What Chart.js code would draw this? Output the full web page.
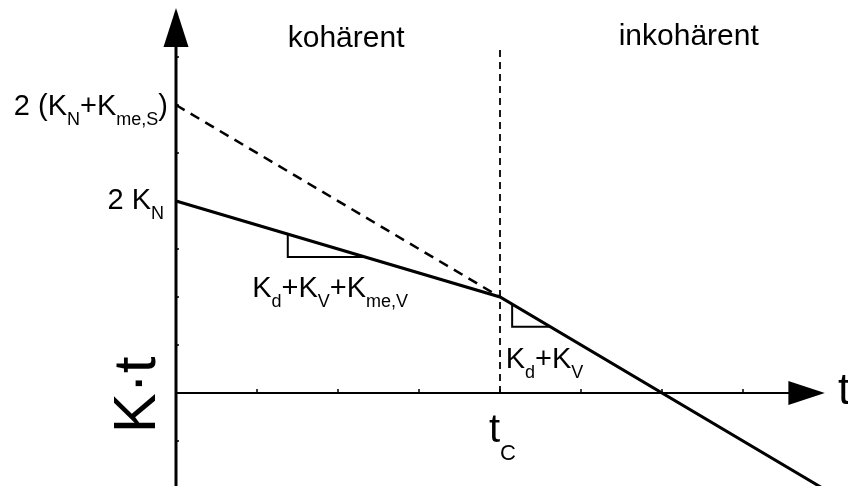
<!DOCTYPE html>
<html>
<head>
<meta charset="utf-8">
<script src="https://cdn.jsdelivr.net/npm/chart.js@4"></script>
<style>
  body { margin: 0; background: #fff; }
  #wrap { width: 848px; height: 486px; }
</style>
</head>
<body>
<div id="wrap"><canvas id="myChart"></canvas></div>
<script>
// time axis in tick units, t_C sits at 4
const solidX = [0, 4, 8.4];
const solidY = [4, 2, -2.4];
const dashX = [0, 4];
const dashY = [6, 2];
const tcLineX = [4, 4];
const tcLineY = [0, 7.2];
const tri1X = [1.38, 1.38, 2.33];
const tri1Y = [3.31, 2.835, 2.835];
const tri2X = [4.15, 4.15, 4.62];
const tri2Y = [1.85, 1.38, 1.38];
const xTicks = [1, 2, 3, 4, 5, 6, 7];
const yTicks = [-1, 1, 2, 3, 4, 5, 6, 7];
const xAxisEnd = 7.56;   // arrow base on the t axis
const yAxisEnd = 7.21;   // arrow base on the K·t axis

const FONT = '"Liberation Sans", Arial, sans-serif';

function pts(xs, ys){
    return xs.map((x, i) => ({x: x, y: ys[i]}));
}

function lineSet(data, width, dash){
    return {
        data: data,
        borderColor: '#000',
        borderWidth: width,
        borderDash: dash || [],
        pointRadius: 0,
        fill: false,
        tension: 0
    };
}

// text with subscripts: parts = [[text, isSub], ...]
function drawRich(ctx, parts, x, y, align, size, subSize, subShift){
    let w = 0;
    parts.forEach(p => {
        ctx.font = (p[1] ? subSize : size) + 'px ' + FONT;
        w += ctx.measureText(p[0]).width;
    });
    let cx = x;
    if(align == 'right') cx = x - w;
    if(align == 'center') cx = x - w / 2;
    ctx.textAlign = 'left';
    ctx.textBaseline = 'alphabetic';
    parts.forEach(p => {
        ctx.font = (p[1] ? subSize : size) + 'px ' + FONT;
        ctx.fillText(p[0], cx, p[1] ? y + subShift : y);
        cx += ctx.measureText(p[0]).width;
    });
}

const decorations = {
    id: 'decorations',
    afterDatasetsDraw(chart){
        const ctx = chart.ctx;
        const xs = chart.scales.x, ys = chart.scales.y;
        const x0 = xs.getPixelForValue(0), y0 = ys.getPixelForValue(0);
        ctx.save();
        ctx.fillStyle = '#000';
        ctx.strokeStyle = '#000';

        // small tick marks
        ctx.lineWidth = 1.5;
        ctx.beginPath();
        yTicks.forEach(v => {
            const py = ys.getPixelForValue(v);
            ctx.moveTo(x0, py); ctx.lineTo(x0 + 3, py);
        });
        xTicks.forEach(v => {
            const px = xs.getPixelForValue(v);
            ctx.moveTo(px, y0); ctx.lineTo(px, y0 - 4);
        });
        ctx.stroke();

        // arrow heads
        const yb = ys.getPixelForValue(yAxisEnd);
        ctx.beginPath();
        ctx.moveTo(x0, ys.getPixelForValue(8.02));
        ctx.lineTo(x0 - 12.5, yb);
        ctx.lineTo(x0 + 12.5, yb);
        ctx.closePath();
        ctx.fill();
        const xb = xs.getPixelForValue(xAxisEnd);
        ctx.beginPath();
        ctx.moveTo(xs.getPixelForValue(8.01), y0);
        ctx.lineTo(xb, y0 - 12);
        ctx.lineTo(xb, y0 + 12);
        ctx.closePath();
        ctx.fill();

        // labels
        drawRich(ctx, [['2 (K'], ['N', 1], ['+K'], ['me,S', 1], [')']],
            x0 - 8, ys.getPixelForValue(6) + 10, 'right', 29, 18, 10);
        drawRich(ctx, [['2 K'], ['N', 1]],
            x0 - 12, ys.getPixelForValue(4) + 8, 'right', 29, 18, 10);
        drawRich(ctx, [['K'], ['d', 1], ['+K'], ['V', 1], ['+K'], ['me,V', 1]],
            xs.getPixelForValue(0.94), ys.getPixelForValue(2), 'left', 29, 18, 10);
        drawRich(ctx, [['K'], ['d', 1], ['+K'], ['V', 1]],
            xs.getPixelForValue(4.07), ys.getPixelForValue(0.52), 'left', 29, 18, 10);
        drawRich(ctx, [['t'], ['C', 1]],
            xs.getPixelForValue(4.03), y0 + 49, 'center', 40, 22, 18);
        drawRich(ctx, [['kohärent']], xs.getPixelForValue(2.1), 47, 'center', 30, 18, 0);
        drawRich(ctx, [['inkohärent']], xs.getPixelForValue(6.33), 45, 'center', 30, 18, 0);
        drawRich(ctx, [['t']], 838, y0 + 11, 'left', 44, 18, 0);

        // vertical axis title
        ctx.translate(155, y0 + 2);
        ctx.rotate(-Math.PI / 2);
        drawRich(ctx, [['K·t']], 0, 0, 'center', 60, 18, 0);
        ctx.restore();
    }
};

const CTX = document.getElementById('myChart').getContext('2d');
const CONFIG = {
    type: 'line',
    data: {
        datasets: [
            lineSet(pts([0, xAxisEnd + 0.05], [0, 0]), 2),
            lineSet(pts([0, 0], [-3, yAxisEnd + 0.05]), 3),
            lineSet(pts(tcLineX, tcLineY), 1.8, [7, 5]),
            lineSet(pts(dashX, dashY), 2.5, [10, 7]),
            lineSet(pts(solidX, solidY), 3),
            lineSet(pts(tri1X, tri1Y), 2),
            lineSet(pts(tri2X, tri2Y), 2)
        ]
    },
    options: {
        responsive: true,
        maintainAspectRatio: false,
        animation: false,
        events: [],
        layout: { padding: 0 },
        plugins: { legend: { display: false }, tooltip: { enabled: false } },
        scales: {
            x: { type: 'linear', min: -176 / 81, max: 672 / 81, display: false },
            y: { type: 'linear', min: -93 / 48, max: 393 / 48, display: false }
        }
    },
    plugins: [decorations]
};

const myChart = new Chart(CTX, CONFIG);
</script>
</body>
</html>
